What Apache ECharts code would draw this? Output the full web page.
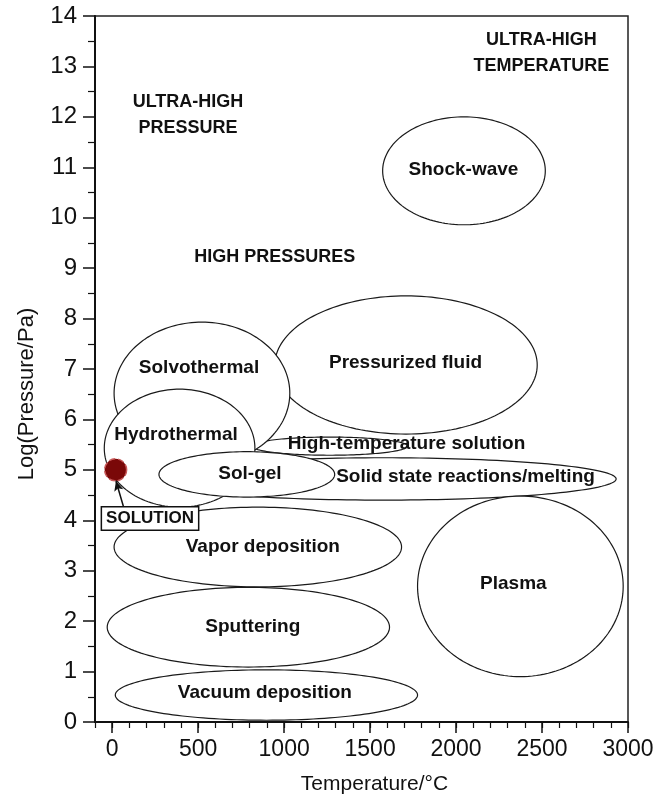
<!DOCTYPE html>
<html>
<head>
<meta charset="utf-8">
<script src="https://cdn.jsdelivr.net/npm/echarts@6/dist/echarts.min.js"></script>
<style>
html,body{margin:0;padding:0;background:#fff;}
#chart{width:662px;height:796px;}
</style>
</head>
<body>
<div id="chart"></div>
<script>
// ---- data (temperature in °C, log10 pressure in Pa) ----
const regionNames = ['Solid state reactions/melting', 'High-temperature solution', 'Pressurized fluid',
  'Solvothermal', 'Hydrothermal', 'Sol-gel', 'Vapor deposition', 'Sputtering', 'Vacuum deposition',
  'Plasma', 'Shock-wave'];
const centerT    = [1576, 1265, 1709, 522, 392, 783, 847, 792, 897, 2374, 2046];
const centerLogP = [4.82, 5.47, 7.08, 6.52, 5.43, 4.91, 3.47, 1.88, 0.535, 2.69, 10.93];
const halfSpanT    = [1355, 453, 763, 511, 438, 511, 836, 821, 879, 598, 473];
const halfSpanLogP = [0.42, 0.18, 1.37, 1.41, 1.17, 0.45, 0.79, 0.79, 0.50, 1.79, 1.07];
const labelT    = [2055, 1712, 1706, 505, 371, 801, 876, 818, 888, 2333, 2043];
const labelLogP = [4.86, 5.51, 7.12, 7.02, 5.69, 4.92, 3.47, 1.88, 0.58, 2.74, 10.95];

const zoneNames = ['ULTRA-HIGH\nPRESSURE', 'ULTRA-HIGH\nTEMPERATURE', 'HIGH PRESSURES'];
const zoneT    = [441, 2496, 946];
const zoneLogP = [12.04, 13.27, 9.22];

const solutionPoint = [20, 5.0];
const solutionLabel = 'SOLUTION';
const solutionLabelAt = [220, 4.035];
const arrowFrom = [70, 4.22];
const arrowTo = [22, 4.78];

const xTicks = [0, 500, 1000, 1500, 2000, 2500, 3000];
const xMin = -100, xMax = 3000;
const yMin = 0, yMax = 14;

// ---- chart ----
const FONT = 'Liberation Sans, Arial, Helvetica, sans-serif';
const chart = echarts.init(document.getElementById('chart'), null, {renderer: 'canvas'});

const ellipseData = regionNames.map((n, i) => ({name: n, value: [centerT[i], centerLogP[i], halfSpanT[i], halfSpanLogP[i]]}));
const labelData = regionNames.map((n, i) => ({name: n, value: [labelT[i], labelLogP[i]]}));
const zoneData = zoneNames.map((n, i) => ({name: n, value: [zoneT[i], zoneLogP[i]]}));

function renderEllipse(params, api) {
  const cx = api.value(0), cy = api.value(1), rx = api.value(2), ry = api.value(3);
  const pts = [];
  const N = 160;
  for (let k = 0; k < N; k++) {
    const t = k / N * Math.PI * 2;
    pts.push(api.coord([cx + rx * Math.cos(t), cy + ry * Math.sin(t)]));
  }
  return {
    type: 'polygon',
    z2: params.dataIndex,
    shape: {points: pts},
    style: {fill: '#ffffff', stroke: '#1a1a1a', lineWidth: 1.2}
  };
}

const hiddenItem = {color: 'rgba(0,0,0,0)', opacity: 1};

const option = {
  backgroundColor: '#fff',
  animation: false,
  grid: {left: 95, right: 34, top: 16, bottom: 74, containLabel: false, outerBoundsMode: 'none',
    show: true, borderColor: '#222', borderWidth: 1.5, backgroundColor: 'transparent'},
  xAxis: [{
    type: 'value', min: xMin, max: xMax, position: 'bottom',
    name: 'Temperature/°C', nameLocation: 'middle', nameGap: 52,
    nameTextStyle: {fontSize: 21, color: '#111', fontFamily: FONT, padding: [0, 0, 0, 26]},
    axisLine: {show: true, onZero: false, lineStyle: {color: '#111', width: 2}},
    axisTick: {show: true, length: 11, customValues: xTicks, lineStyle: {color: '#111', width: 1.5}},
    axisLabel: {show: true, customValues: xTicks, fontSize: 23, color: '#111', fontFamily: FONT, margin: 16,
      formatter: v => String(v)},
    splitLine: {show: false}
  }, {
    type: 'value', min: xMin, max: xMax, interval: 100, position: 'bottom',
    axisLine: {show: false},
    axisTick: {show: true, length: 6, lineStyle: {color: '#111', width: 1.2}},
    axisLabel: {show: false},
    splitLine: {show: false}
  }],
  yAxis: [{
    type: 'value', min: yMin, max: yMax, interval: 1,
    name: 'Log(Pressure/Pa)', nameLocation: 'middle', nameGap: 57,
    nameTextStyle: {fontSize: 22, color: '#111', fontFamily: FONT, padding: [0, 50, 0, 0]},
    axisLine: {show: true, onZero: false, lineStyle: {color: '#111', width: 2}},
    axisTick: {show: true, length: 12, lineStyle: {color: '#111', width: 1.5}},
    minorTick: {show: true, splitNumber: 2, length: 7, lineStyle: {color: '#111', width: 1.2}},
    axisLabel: {fontSize: 24, color: '#111', fontFamily: FONT, margin: 18},
    splitLine: {show: false}, minorSplitLine: {show: false}
  }],
  series: [
    {
      type: 'custom', name: 'regions', xAxisIndex: 0, yAxisIndex: 0, z: 2,
      renderItem: renderEllipse, data: ellipseData, silent: true, clip: false
    },
    {
      type: 'scatter', name: 'regionLabels', z: 5, symbolSize: 1,
      itemStyle: hiddenItem,
      label: {show: true, position: 'inside', formatter: '{b}', fontSize: 19, fontWeight: 'bold',
        color: '#111', fontFamily: FONT},
      data: labelData, silent: true
    },
    {
      type: 'scatter', name: 'zones', z: 5, symbolSize: 1,
      itemStyle: hiddenItem,
      label: {show: true, position: 'inside', formatter: '{b}', fontSize: 18, fontWeight: 'bold',
        color: '#111', fontFamily: FONT, align: 'center', lineHeight: 26},
      data: zoneData, silent: true
    },
    {
      type: 'scatter', name: 'solutionLabel', z: 6, symbolSize: 1,
      itemStyle: hiddenItem,
      label: {show: true, position: 'inside', formatter: solutionLabel, fontSize: 17, fontWeight: 'bold',
        color: '#111', fontFamily: FONT, backgroundColor: '#fff', borderColor: '#111', borderWidth: 1.5,
        padding: [3, 4, 2, 4]},
      data: [{name: solutionLabel, value: solutionLabelAt}],
      markLine: {
        silent: true, symbol: ['none', 'arrow'], symbolSize: [7, 10],
        lineStyle: {color: '#111', width: 1.5, type: 'solid', opacity: 1},
        label: {show: false},
        data: [[{coord: arrowFrom}, {coord: arrowTo}]]
      }
    },
    {
      type: 'scatter', name: 'solution', z: 7, symbol: 'circle', symbolSize: 22,
      itemStyle: {color: '#7a0808', borderColor: '#c85a5a', borderWidth: 1.5, borderType: 'dashed', opacity: 1},
      data: [solutionPoint], silent: true
    }
  ]
};
chart.setOption(option);
</script>
</body>
</html>
